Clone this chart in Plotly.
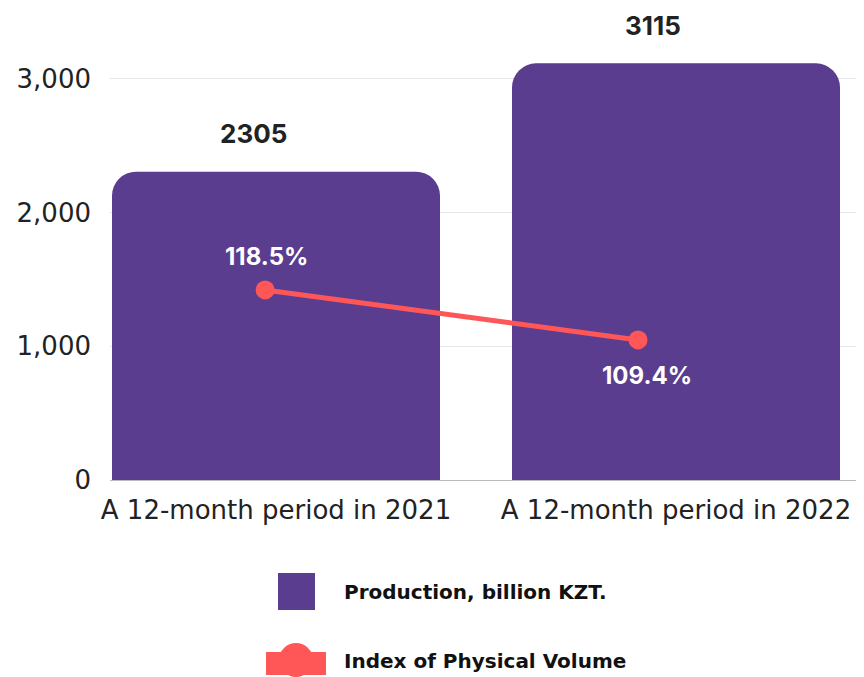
import plotly.graph_objects as go

categories = ["A 12-month period in 2021", "A 12-month period in 2022"]
production = [2305, 3115]
index_pv = [118.5, 109.4]
index_labels = ["118.5%", "109.4%"]
bar_series_name = "Production, billion KZT."
line_series_name = "Index of Physical Volume"

PURPLE = "#5A3D8E"
RED = "#FF5757"
FONT = "Inter"
TICKFONT = "DejaVu Sans"

# plot area in figure pixels (page offset of 8px accounted)
L, T, R, B = 102, 44, 856, 472
W, H = R - L, B - T


def px(x):
    return (x - 8 - L) / W


def py(y):
    return (B - (y - 8)) / H


fig = go.Figure()
fig.add_trace(go.Bar(
    x=categories, y=production, name=bar_series_name,
    marker=dict(color=PURPLE, cornerradius=24, line=dict(width=0)),
    width=0.82, showlegend=False, hoverinfo="skip",
))
fig.add_trace(go.Scatter(
    x=[0, 1], y=index_pv, name=line_series_name, xaxis="x2", yaxis="y2",
    mode="lines+markers",
    line=dict(color=RED, width=5),
    marker=dict(color=RED, size=19),
    showlegend=False, cliponaxis=False,
))

# percent labels
shifts = [(1, 33), (9, -36)]
for i, (lab, v) in enumerate(zip(index_labels, index_pv)):
    fig.add_annotation(x=i, y=v, xref="x2", yref="y2", text=f"<b>{lab}</b>",
                       showarrow=False, xshift=shifts[i][0], yshift=shifts[i][1],
                       font=dict(family=FONT, size=24, color="white"))

# value labels above bars
for c, v in zip(categories, production):
    fig.add_annotation(x=c, y=v, text=f"<b>{v}</b>", showarrow=False,
                       yanchor="middle", yshift=38, xshift=-23,
                       font=dict(family=FONT, size=26, color="#222222"))

# custom legend
fig.add_shape(type="rect", xref="paper", yref="paper",
              x0=px(278), x1=px(315), y0=py(610), y1=py(573),
              fillcolor=PURPLE, line=dict(width=0))
fig.add_shape(type="rect", xref="paper", yref="paper",
              x0=px(266), x1=px(326), y0=py(675), y1=py(652),
              fillcolor=RED, line=dict(width=0))
fig.add_shape(type="circle", xref="paper", yref="paper",
              x0=px(279), x1=px(313), y0=py(677), y1=py(643),
              fillcolor=RED, line=dict(width=0))
fig.add_annotation(xref="paper", yref="paper", x=px(342), y=py(592),
                   text=f"<b>{bar_series_name}</b>", showarrow=False, xanchor="left", yanchor="middle",
                   font=dict(family="DejaVu Sans", size=20, color="#111111"))
fig.add_annotation(xref="paper", yref="paper", x=px(342), y=py(661),
                   text=f"<b>{line_series_name}</b>", showarrow=False, xanchor="left", yanchor="middle",
                   font=dict(family="DejaVu Sans", size=20, color="#111111"))

fig.update_layout(
    width=864, height=677,
    margin=dict(l=L, r=864 - R, t=T, b=677 - B),
    plot_bgcolor="white", paper_bgcolor="white",
    font=dict(family=FONT, size=23, color="#222222"),
    xaxis=dict(range=[-0.415, 1.47], showgrid=False, zeroline=False,
               showline=True, linecolor="#BBBBBB", linewidth=1,
               ticklabelstandoff=7,
               tickfont=dict(family=TICKFONT, size=26, color="#222222"), ticks=""),
    xaxis2=dict(overlaying="x", range=[-0.416, 1.606], visible=False),
    yaxis=dict(range=[0, 3200], tickvals=[0, 1000, 2000, 3000],
               tickformat=",d", showgrid=True, gridcolor="#E6E6E6",
               zeroline=False, showline=False, ticks="",
               ticklabelstandoff=18,
               tickfont=dict(family=TICKFONT, size=26, color="#222222")),
    yaxis2=dict(overlaying="y", range=[83.9, 161.8], visible=False),
)

fig.write_html("out.html")
